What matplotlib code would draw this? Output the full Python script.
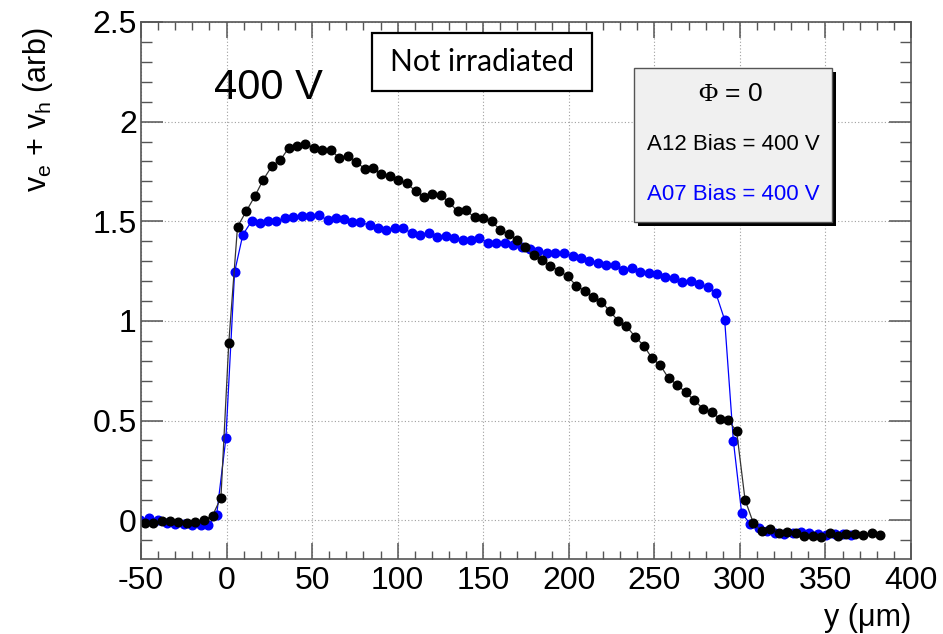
import numpy as np
import matplotlib
matplotlib.use('Agg')
import matplotlib.pyplot as plt
from matplotlib.ticker import MultipleLocator
from matplotlib.patches import Rectangle

plt.rcParams['font.family'] = ['Liberation Sans', 'DejaVu Sans']
plt.rcParams['mathtext.fontset'] = 'custom'
plt.rcParams['mathtext.rm'] = 'Liberation Sans'
plt.rcParams['mathtext.sf'] = 'Liberation Serif'
plt.rcParams['axes.unicode_minus'] = False

# A12 (black) -- position in um, signal
a12_x = [-47.7, -42.8, -37.9, -33.1, -28.2, -23.4, -18.5, -13.1, -8.2, -3.3,
         1.3, 6.4, 11.4, 16.5, 21.4, 26.6, 31.5, 36.4, 41.2, 46.1,
         51.0, 56.0, 60.9, 65.7, 71.0, 75.9, 80.9, 85.6, 90.5, 95.3,
         100.2, 105.4, 110.5, 115.4, 120.3, 125.1, 130.0, 135.0, 139.9, 145.0,
         149.8, 155.0, 160.0, 164.8, 169.7, 174.5, 179.4, 184.2, 189.3, 194.4,
         199.4, 204.5, 209.3, 214.0, 219.1, 224.0, 228.8, 233.7, 238.9, 243.8,
         248.7, 253.5, 258.4, 263.5, 268.3, 273.4, 278.5, 283.5, 288.4, 293.2,
         298.1, 303.0, 307.8, 312.7, 317.7, 322.8, 327.8, 332.7, 337.6, 342.5,
         347.5, 352.4, 357.3, 362.3, 367.4, 372.2, 377.3, 382.1]
a12_y = [-0.014, -0.016, -0.006, -0.003, -0.011, -0.016, -0.011, 0.001, 0.023, 0.112,
         0.889, 1.472, 1.549, 1.625, 1.708, 1.778, 1.808, 1.869, 1.877, 1.889,
         1.868, 1.856, 1.860, 1.818, 1.828, 1.797, 1.762, 1.768, 1.735, 1.725,
         1.708, 1.690, 1.651, 1.623, 1.635, 1.631, 1.596, 1.549, 1.554, 1.520,
         1.514, 1.499, 1.455, 1.437, 1.405, 1.371, 1.329, 1.306, 1.277, 1.250,
         1.223, 1.176, 1.151, 1.122, 1.097, 1.048, 1.001, 0.973, 0.919, 0.876,
         0.812, 0.777, 0.711, 0.679, 0.641, 0.602, 0.558, 0.542, 0.508, 0.501,
         0.446, 0.103, -0.013, -0.054, -0.043, -0.064, -0.061, -0.063, -0.078, -0.078,
         -0.083, -0.063, -0.082, -0.070, -0.070, -0.073, -0.064, -0.075]

# A07 (blue)
a07_x = [-50.6, -45.4, -40.3, -35.0, -30.2, -24.8, -20.1, -15.2, -10.7, -5.8,
         -0.4, 4.7, 9.5, 14.6, 19.4, 24.1, 29.0, 34.0, 38.9, 44.1,
         49.0, 53.9, 59.0, 63.8, 68.7, 73.6, 78.2, 83.7, 88.5, 93.4,
         98.2, 103.1, 108.2, 113.3, 118.1, 123.2, 128.0, 133.1, 138.0, 142.8,
         147.7, 152.7, 157.6, 162.5, 167.3, 172.4, 177.5, 182.3, 187.4, 192.2,
         197.1, 202.2, 207.2, 212.1, 216.9, 222.0, 226.8, 231.8, 236.8, 241.7,
         246.7, 251.6, 256.5, 261.5, 266.4, 271.2, 276.1, 281.1, 286.0, 291.1,
         296.2, 301.0, 305.9, 310.9, 315.8, 320.7, 325.7, 330.8, 335.7, 340.5,
         345.6, 350.4, 355.3, 360.4, 365.2]
a07_y = [0.001, 0.009, 0.001, -0.014, -0.021, -0.019, -0.024, -0.024, -0.024, 0.026,
         0.410, 1.245, 1.432, 1.500, 1.492, 1.500, 1.500, 1.516, 1.521, 1.524,
         1.524, 1.529, 1.507, 1.514, 1.509, 1.495, 1.495, 1.480, 1.468, 1.457,
         1.465, 1.465, 1.441, 1.431, 1.441, 1.423, 1.428, 1.418, 1.404, 1.408,
         1.415, 1.393, 1.389, 1.389, 1.379, 1.369, 1.363, 1.349, 1.339, 1.339,
         1.339, 1.326, 1.316, 1.299, 1.292, 1.282, 1.282, 1.255, 1.265, 1.244,
         1.239, 1.234, 1.219, 1.215, 1.193, 1.198, 1.187, 1.170, 1.138, 1.005,
         0.397, 0.038, -0.019, -0.039, -0.056, -0.064, -0.068, -0.066, -0.058, -0.064,
         -0.070, -0.075, -0.070, -0.068, -0.073]

x_ticks = [-50, 0, 50, 100, 150, 200, 250, 300, 350, 400]
y_ticks = [0, 0.5, 1, 1.5, 2, 2.5]
y_tick_labels = ['0', '0.5', '1', '1.5', '2', '2.5']

fig = plt.figure(figsize=(9.43, 6.34), dpi=100)
ax = fig.add_axes([141/943, 1 - 559/634, (911 - 141)/943, (559 - 22)/634])

ax.plot(a07_x, a07_y, color='#0000ff', lw=0.9, marker='o', ms=6.2, mec='#0000ff', mfc='#0000ff')
ax.plot(a12_x, a12_y, color='#333333', lw=0.9, marker='o', ms=6.2, mec='black', mfc='black')

ax.set_xlim(-50, 400)
ax.set_ylim(-0.195, 2.5)
ax.set_xticks(x_ticks)
ax.set_yticks(y_ticks)
ax.set_yticklabels(y_tick_labels)
ax.xaxis.set_minor_locator(MultipleLocator(10))
ax.yaxis.set_minor_locator(MultipleLocator(0.1))

ax.grid(True, which='major', color='#a0a0a0', lw=0.8, ls=(0, (1, 2)))
ax.tick_params(axis='both', which='both', direction='in', top=True, right=True,
               color='#555555', labelsize=23)
ax.tick_params(axis='y', which='major', length=16, width=1.1, pad=3)
ax.tick_params(axis='y', which='minor', length=8, width=1.0)
ax.tick_params(axis='x', which='major', length=11.5, width=1.1, pad=5)
ax.tick_params(axis='x', which='minor', length=6, width=1.0)
for s in ax.spines.values():
    s.set_color('#555555')
    s.set_linewidth(1.2)

fig.text(38/943, 1 - 28/634, r'v$_{\mathrm{e}}$ + v$_{\mathrm{h}}$ (arb)', rotation=90,
         ha='center', va='top', fontsize=22)
fig.text(911/943, 1 - 633/634, 'y (\u03bcm)', ha='right', va='bottom', fontsize=22)

# "400 V" label
ax.text(268/943, 1 - 88/634, '400 V', transform=fig.transFigure, ha='center', va='center',
        fontsize=30)

# "Not irradiated" box
fig.patches.append(Rectangle((372/943, 1 - 91/634), (592 - 372)/943, (91 - 33)/634,
                             transform=fig.transFigure, fc='white', ec='black', lw=1.6,
                             zorder=5))
fig.text(482/943, 1 - 62/634, 'Not irradiated', ha='center', va='center', fontsize=21.5,
         family=['Lato', 'DejaVu Sans'], zorder=6)

# legend-like pave with shadow
fig.patches.append(Rectangle((638/943, 1 - 226/634), (832 - 634)/943, (222 - 68)/634,
                             transform=fig.transFigure, fc='black', ec='black', lw=0,
                             zorder=4))
fig.patches.append(Rectangle((634/943, 1 - 222/634), (832 - 634)/943, (222 - 68)/634,
                             transform=fig.transFigure, fc='#f0f0f0', ec='#555555', lw=1.0,
                             zorder=5))
fig.text(730/943, 1 - 94/634, r'$\mathsf{\Phi}$ = 0', ha='center', va='center', fontsize=19,
         zorder=6)
fig.text(733/943, 1 - 145/634, 'A12 Bias = 400 V', ha='center', va='center', fontsize=16,
         color='black', zorder=6)
fig.text(733/943, 1 - 195/634, 'A07 Bias = 400 V', ha='center', va='center', fontsize=16,
         color='#0000ff', zorder=6)

fig.savefig('out.png', dpi=100)
